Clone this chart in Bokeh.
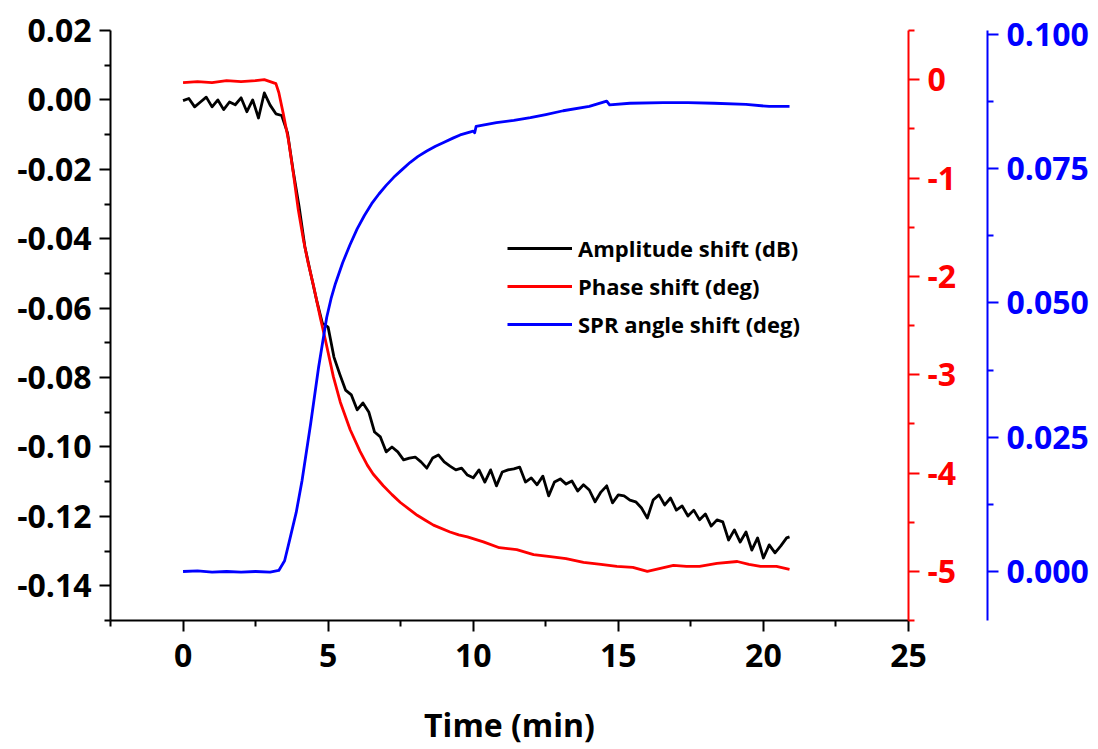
from bokeh.plotting import figure
from bokeh.models import Range1d, LinearAxis, FixedTicker, PrintfTickFormatter, Legend, LegendItem
from bokeh.embed import file_html
from bokeh.resources import INLINE

# ---------------- data ----------------
time_amp = [0.0, 0.2, 0.4, 0.6, 0.8, 1.0, 1.2, 1.4, 1.6, 1.8,
            2.0, 2.2, 2.4, 2.6, 2.8, 3.0, 3.2, 3.4, 3.6, 3.8,
            4.0, 4.2, 4.4, 4.6, 4.8, 5.0, 5.2, 5.4, 5.6, 5.8,
            6.0, 6.2, 6.4, 6.6, 6.8, 7.0, 7.2, 7.4, 7.6, 7.8,
            8.0, 8.2, 8.4, 8.6, 8.8, 9.0, 9.2, 9.4, 9.6, 9.8,
            10.0, 10.2, 10.4, 10.6, 10.8, 11.0, 11.2, 11.4, 11.6, 11.8,
            12.0, 12.2, 12.4, 12.6, 12.8, 13.0, 13.2, 13.4, 13.6, 13.8,
            14.0, 14.2, 14.4, 14.6, 14.8, 15.0, 15.2, 15.4, 15.6, 15.8,
            16.0, 16.2, 16.4, 16.6, 16.8, 17.0, 17.2, 17.4, 17.6, 17.8,
            18.0, 18.2, 18.4, 18.6, 18.8, 19.0, 19.2, 19.4, 19.6, 19.8,
            20.0, 20.2, 20.4, 20.6, 20.8, 20.9]
amp_db = [-0.0002, 0.0004, -0.0020, -0.0006, 0.0008, -0.0020, 0.0000, -0.0028, -0.0006, -0.0014,
          0.0006, -0.0034, 0.0000, -0.0052, 0.0020, -0.0015, -0.0040, -0.0045, -0.0095, -0.0207,
          -0.0308, -0.0424, -0.0501, -0.0576, -0.0643, -0.0655, -0.0741, -0.0790, -0.0836, -0.0850,
          -0.0893, -0.0873, -0.0899, -0.0957, -0.0971, -0.1014, -0.1000, -0.1014, -0.1037, -0.1032,
          -0.1029, -0.1043, -0.1061, -0.1032, -0.1023, -0.1043, -0.1055, -0.1066, -0.1061, -0.1081,
          -0.1089, -0.1066, -0.1101, -0.1066, -0.1112, -0.1072, -0.1066, -0.1063, -0.1058, -0.1101,
          -0.1089, -0.1109, -0.1084, -0.1141, -0.1101, -0.1092, -0.1107, -0.1098, -0.1127, -0.1109,
          -0.1124, -0.1158, -0.1130, -0.1112, -0.1161, -0.1138, -0.1141, -0.1153, -0.1158, -0.1176,
          -0.1205, -0.1153, -0.1138, -0.1167, -0.1147, -0.1182, -0.1170, -0.1199, -0.1182, -0.1210,
          -0.1193, -0.1228, -0.1210, -0.1216, -0.1268, -0.1239, -0.1274, -0.1245, -0.1297, -0.1262,
          -0.1320, -0.1282, -0.1305, -0.1285, -0.1262, -0.1259]

time_phase = [0.0, 0.5, 1.0, 1.5, 2.0, 2.5, 2.8, 3.0, 3.2, 3.3,
              3.45, 3.63, 3.8, 3.97, 4.15, 4.3, 4.5, 4.73, 4.9, 5.18,
              5.42, 5.76, 6.1, 6.35, 6.55, 6.9, 7.2, 7.49, 7.8, 8.07,
              8.35, 8.63, 9.2, 9.5, 9.8, 10.35, 10.9, 11.5, 12.08, 12.66,
              13.2, 13.8, 14.4, 14.95, 15.5, 16.0, 16.45, 16.9, 17.35, 17.8,
              18.4, 19.1, 19.5, 19.9, 20.45, 20.9]
phase_deg = [-0.03, -0.02, -0.03, -0.01, -0.02, -0.01, 0.0, -0.02, -0.04, -0.13,
             -0.34, -0.61, -0.95, -1.32, -1.63, -1.85, -2.10, -2.42, -2.64, -3.02,
             -3.28, -3.56, -3.78, -3.92, -4.01, -4.13, -4.22, -4.30, -4.37, -4.43,
             -4.48, -4.53, -4.60, -4.63, -4.65, -4.70, -4.76, -4.78, -4.83, -4.85,
             -4.87, -4.91, -4.93, -4.95, -4.96, -5.00, -4.97, -4.94, -4.95, -4.95,
             -4.92, -4.90, -4.93, -4.95, -4.95, -4.98]

time_spr = [0.0, 0.5, 1.0, 1.5, 2.0, 2.5, 3.0, 3.3, 3.5, 3.67,
            3.9, 4.1, 4.4, 4.67, 4.95, 5.1, 5.25, 5.5, 5.75, 6.0,
            6.25, 6.5, 6.75, 7.0, 7.26, 7.5, 7.83, 8.1, 8.4, 8.7,
            8.98, 9.3, 9.55, 10.0, 10.05, 10.1, 10.8, 11.4, 11.97, 12.5,
            13.1, 14.0, 14.6, 14.7, 15.4, 16.55, 17.4, 18.3, 19.4, 20.2,
            20.9]
spr_deg = [0.0, 0.0001, -0.0001, 0.0, -0.0001, 0.0, -0.0001, 0.0002, 0.0020, 0.0058,
           0.0110, 0.0169, 0.0276, 0.0380, 0.0473, 0.0508, 0.0536, 0.0575, 0.0608, 0.0638,
           0.0663, 0.0685, 0.0703, 0.0719, 0.0734, 0.0746, 0.0762, 0.0773, 0.0783, 0.0792,
           0.0799, 0.0807, 0.0813, 0.0820, 0.0817, 0.0829, 0.0836, 0.0840, 0.0845, 0.0851,
           0.0858, 0.0866, 0.0876, 0.0869, 0.0872, 0.0873, 0.0873, 0.0872, 0.0870, 0.0866,
           0.0866]

x_ticks = [0, 5, 10, 15, 20, 25]
x_minor = [-2.5, 2.5, 7.5, 12.5, 17.5, 22.5]
left_ticks = [-0.14, -0.12, -0.10, -0.08, -0.06, -0.04, -0.02, 0.0, 0.02]
left_minor = [-0.15, -0.13, -0.11, -0.09, -0.07, -0.05, -0.03, -0.01, 0.01]
red_ticks = [-5, -4, -3, -2, -1, 0]
red_minor = [-5.5, -4.5, -3.5, -2.5, -1.5, -0.5, 0.5]
blue_ticks = [0.0, 0.025, 0.05, 0.075, 0.1]
blue_minor = [0.0125, 0.0375, 0.0625, 0.0875]

legend_labels = ["Amplitude shift (dB)", "Phase shift (deg)", "SPR angle shift (deg)"]

FONT = "Open Sans"

p = figure(width=1098, height=749, output_backend="svg", toolbar_location=None,
           x_range=Range1d(-2.5, 25), y_range=Range1d(-0.15, 0.02),
           min_border_left=110, min_border_right=190, min_border_top=30, min_border_bottom=129)
p.outline_line_color = None
p.xgrid.visible = False
p.ygrid.visible = False
p.background_fill_color = "white"
p.border_fill_color = "white"

p.extra_y_ranges = {
    "red": Range1d(-5.5, 0.5),
    "blue": Range1d(-0.009125, 0.100745),
}


def style_axis(ax, color, ticks, minor, fmt, size="32px"):
    ax.ticker = FixedTicker(ticks=ticks, minor_ticks=minor)
    ax.formatter = PrintfTickFormatter(format=fmt)
    ax.axis_line_color = color
    ax.axis_line_width = 2
    ax.major_tick_line_color = color
    ax.major_tick_line_width = 2
    ax.minor_tick_line_color = color
    ax.minor_tick_line_width = 2
    ax.major_tick_in = 0
    ax.major_tick_out = 11
    ax.minor_tick_in = 0
    ax.minor_tick_out = 6
    ax.major_label_text_color = color
    ax.major_label_text_font = FONT
    ax.major_label_text_font_style = "bold"
    ax.major_label_text_font_size = size


xax = p.xaxis[0]
style_axis(xax, "black", x_ticks, x_minor, "%d")
xax.major_label_standoff = 12
xax.axis_label = "Time (min)"
xax.axis_label_text_font = FONT
xax.axis_label_text_font_style = "bold"
xax.axis_label_text_font_size = "32px"
xax.axis_label_text_color = "black"
xax.axis_label_standoff = 33

yax = p.yaxis[0]
style_axis(yax, "black", left_ticks, left_minor, "%.2f")
yax.major_label_standoff = 8

red_axis = LinearAxis(y_range_name="red")
style_axis(red_axis, "#FF0000", red_ticks, red_minor, "%d")
red_axis.major_label_standoff = 8
red_axis.axis_label = "\u00a0"
red_axis.axis_label_text_font_size = "10px"
red_axis.axis_label_standoff = 14
p.add_layout(red_axis, "right")

blue_axis = LinearAxis(y_range_name="blue")
style_axis(blue_axis, "#0000FF", blue_ticks, blue_minor, "%.3f")
blue_axis.major_label_standoff = 8
p.add_layout(blue_axis, "right")

r_amp = p.line(time_amp, amp_db, line_color="black", line_width=2.8, line_join="round")
r_phase = p.line(time_phase, phase_deg, line_color="#FF0000", line_width=2.8,
                 line_join="round", y_range_name="red")
r_spr = p.line(time_spr, spr_deg, line_color="#0000FF", line_width=2.8,
               line_join="round", y_range_name="blue")

legend = Legend(items=[LegendItem(label=legend_labels[0], renderers=[r_amp]),
                       LegendItem(label=legend_labels[1], renderers=[r_phase]),
                       LegendItem(label=legend_labels[2], renderers=[r_spr])],
                location=(397, 277))
legend.border_line_color = None
legend.background_fill_alpha = 0
legend.padding = 0
legend.margin = 0
legend.spacing = 0
legend.glyph_width = 65
legend.glyph_height = 38
legend.label_height = 38
legend.label_standoff = 6
legend.label_text_font = FONT
legend.label_text_font_style = "bold"
legend.label_text_font_size = "22px"
legend.label_text_color = "black"
p.add_layout(legend, "center")

open("out.html", "w").write(file_html(p, INLINE))
